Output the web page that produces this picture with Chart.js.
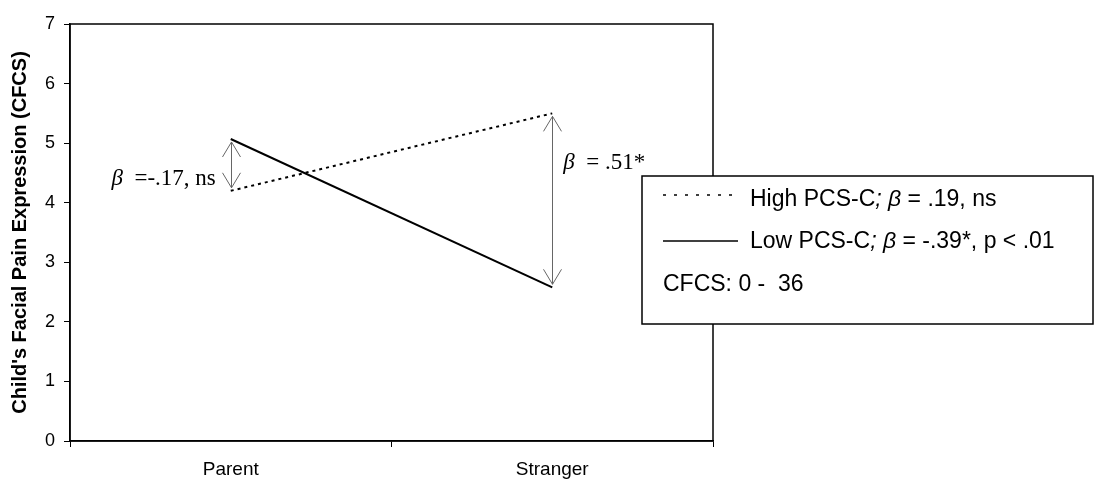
<!DOCTYPE html>
<html>
<head>
<meta charset="utf-8">
<script src="https://cdn.jsdelivr.net/npm/chart.js@4.4.0/dist/chart.umd.min.js"></script>
<style>
  html, body { margin:0; padding:0; background:#fff; }
  #wrap { width:1095px; height:479px; position:relative; }
</style>
</head>
<body>
<div id="wrap"><canvas id="c"></canvas></div>
<script>
// --- data ---
const categories = ['Parent', 'Stranger'];
const highPCS = [4.2, 5.5];    // dotted line
const lowPCS = [5.07, 2.58];   // solid line
const betaLabels = ['=-.17, ns', '= .51*'];
const legendItems = [
  { pre: 'High PCS-C', post: ' = .19, ns', dash: [3, 8] },
  { pre: 'Low PCS-C', post: ' = -.39*, p < .01', dash: [] }
];
const legendNote = 'CFCS: 0 -  36';

const SANS = 'Arial, "Liberation Sans", sans-serif';
const SERIF = '"Times New Roman", "Liberation Serif", serif';

// frame, arrows, beta labels and legend box
const extras = {
  id: 'extras',
  afterDraw(chart) {
    const ctx = chart.ctx;
    const a = chart.chartArea;
    const xs = chart.scales.x, ys = chart.scales.y;
    ctx.save();

    // plot frame
    ctx.strokeStyle = '#000';
    ctx.lineWidth = 1.5;
    ctx.strokeRect(a.left, a.top, a.right - a.left, a.bottom - a.top);

    // double arrows between the two lines at each category
    ctx.strokeStyle = '#666';
    ctx.lineWidth = 1;
    categories.forEach((c, i) => {
      const x = Math.round(xs.getPixelForValue(i)) + 0.5;
      const yTop = ys.getPixelForValue(Math.max(highPCS[i], lowPCS[i])) + 3;
      const yBot = ys.getPixelForValue(Math.min(highPCS[i], lowPCS[i])) - 3;
      ctx.beginPath();
      ctx.moveTo(x, yTop); ctx.lineTo(x, yBot);
      ctx.moveTo(x - 9, yTop + 15); ctx.lineTo(x, yTop); ctx.lineTo(x + 9, yTop + 15);
      ctx.moveTo(x - 9, yBot - 15); ctx.lineTo(x, yBot); ctx.lineTo(x + 9, yBot - 15);
      ctx.stroke();
    });

    // beta labels
    ctx.fillStyle = '#000';
    ctx.textBaseline = 'alphabetic';
    const drawBeta = (x, y, rest, alignRight) => {
      ctx.font = 'italic 23px ' + SERIF;
      const bw = ctx.measureText('β').width;
      ctx.font = '23px ' + SERIF;
      const rw = ctx.measureText('  ' + rest).width;
      const x0 = alignRight ? x - bw - rw : x;
      ctx.font = 'italic 23px ' + SERIF;
      ctx.fillText('β', x0, y);
      ctx.font = '23px ' + SERIF;
      ctx.fillText('  ' + rest, x0 + bw, y);
    };
    const p0 = xs.getPixelForValue(0);
    const p1 = xs.getPixelForValue(1);
    drawBeta(p0 - 15, ys.getPixelForValue(4.3), betaLabels[0], true);
    drawBeta(p1 + 11, ys.getPixelForValue(4.56), betaLabels[1], false);

    // legend box
    const bx = 642, by = 176, bw = 451, bh = 148;
    ctx.fillStyle = '#fff';
    ctx.fillRect(bx, by, bw, bh);
    ctx.strokeStyle = '#000';
    ctx.lineWidth = 1.5;
    ctx.strokeRect(bx, by, bw, bh);

    ctx.fillStyle = '#000';
    ctx.textBaseline = 'middle';
    legendItems.forEach((it, i) => {
      const y = by + 24 + i * 42;
      ctx.strokeStyle = '#000';
      ctx.lineWidth = 1.5;
      ctx.setLineDash(it.dash);
      ctx.beginPath();
      ctx.moveTo(bx + 21, y - 5 + i * 4); ctx.lineTo(bx + 96, y - 5 + i * 4);
      ctx.stroke();
      ctx.setLineDash([]);
      let x = bx + 108;
      ctx.font = '23px ' + SANS;
      ctx.fillText(it.pre, x, y);
      x += ctx.measureText(it.pre).width;
      ctx.font = 'italic 23px ' + SANS;
      ctx.fillText('; β', x, y);
      x += ctx.measureText('; β').width;
      ctx.font = '23px ' + SANS;
      ctx.fillText(it.post, x, y);
    });
    ctx.font = '23px ' + SANS;
    ctx.fillText(legendNote, bx + 21, by + 109);

    ctx.restore();
  }
};

new Chart(document.getElementById('c'), {
  type: 'line',
  data: {
    labels: categories,
    datasets: [
      { label: 'High PCS-C', data: highPCS, borderColor: '#000', borderWidth: 2,
        borderDash: [3, 4], pointRadius: 0, tension: 0, fill: false },
      { label: 'Low PCS-C', data: lowPCS, borderColor: '#000', borderWidth: 2,
        pointRadius: 0, tension: 0, fill: false }
    ]
  },
  options: {
    responsive: true,
    maintainAspectRatio: false,
    animation: false,
    layout: { padding: { left: 0, right: 382, top: 24, bottom: 0 } },
    plugins: { legend: { display: false }, tooltip: { enabled: false } },
    scales: {
      x: {
        type: 'category',
        offset: true,
        grid: { display: true, offset: true, drawOnChartArea: false, tickLength: 6, color: '#000', tickColor: '#000' },
        border: { display: true, color: '#000', width: 1.5 },
        ticks: { color: '#000', font: { family: SANS, size: 19 }, padding: 11, maxRotation: 0 },
        afterFit(s) { s.height = 38; }
      },
      y: {
        min: 0, max: 7,
        grid: { display: true, drawOnChartArea: false, tickLength: 6, color: '#000', tickColor: '#000' },
        border: { display: true, color: '#000', width: 1.5 },
        ticks: { stepSize: 1, color: '#000', font: { family: SANS, size: 18 }, padding: 9 },
        title: { display: true, text: "Child's Facial Pain Expression (CFCS)", color: '#000',
                 font: { family: SANS, size: 20, weight: 'bold' }, padding: { top: 8, bottom: 4 } },
        afterFit(s) { s.width = 70; }
      }
    }
  },
  plugins: [extras]
});
</script>
</body>
</html>
